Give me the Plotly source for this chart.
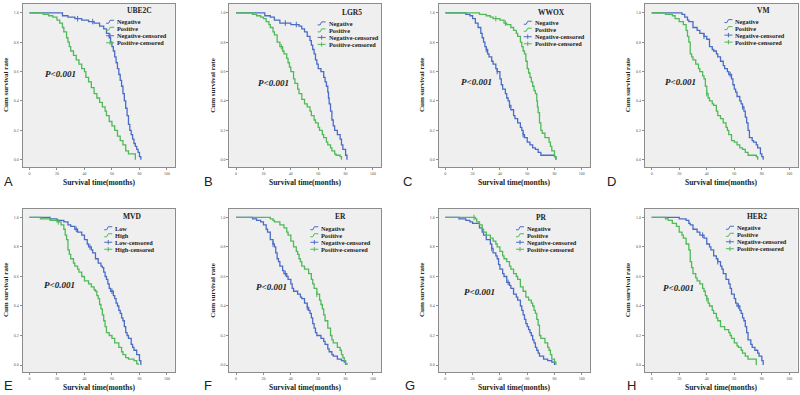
import plotly.graph_objects as go

# ---------------- data ----------------
x_ticks = [0, 20, 40, 60, 80, 100]
y_ticks = [0.0, 0.2, 0.4, 0.6, 0.8, 1.0]
panel_titles = ["UBE2C", "LGR5", "WWOX", "VM", "MVD", "ER", "PR", "HER2"]
panel_letters = ["A", "B", "C", "D", "E", "F", "G", "H"]
std_labels = ["Negative", "Positive", "Negative-censored", "Positive-censored"]
mvd_labels = ["Low", "High", "Low-censored", "High-censored"]
p_text = "P&lt;0.001"

ube2c_neg_t = [0, 24, 28, 33, 38, 43, 47, 51, 54, 56, 58, 59, 60, 61, 62, 63, 64, 65, 66, 67, 68, 69, 70, 71, 72, 73, 74, 75, 76, 77, 78, 79, 80, 81]
ube2c_neg_s = [1, .98, .97, .96, .95, .94, .93, .91, .89, .86, .83, .8, .77, .74, .7, .66, .62, .58, .54, .5, .45, .4, .35, .3, .24, .2, .17, .14, .11, .09, .07, .05, .02, 0]
ube2c_pos_t = [0, 10, 14, 17, 20, 22, 24, 25, 27, 28, 29, 30, 32, 34, 36, 38, 40, 41, 43, 45, 47, 49, 51, 53, 55, 56, 58, 60, 62, 64, 66, 68, 70, 72, 77]
ube2c_pos_s = [1, .99, .98, .97, .95, .93, .9, .87, .83, .8, .77, .74, .71, .68, .65, .62, .6, .56, .53, .49, .45, .42, .39, .36, .33, .3, .26, .23, .2, .16, .13, .1, .06, .04, 0]

lgr5_neg_t = [0, 21, 25, 28, 32, 40, 46, 48, 50, 52, 54, 55, 56, 57, 58, 59, 60, 62, 64, 65, 66, 67, 67.5, 68, 69, 70, 71, 72, 74, 76, 77, 78, 80, 81]
lgr5_neg_s = [1, .98, .97, .95, .93, .92, .91, .89, .87, .84, .81, .78, .75, .72, .68, .65, .62, .6, .56, .53, .5, .46, .42, .38, .33, .27, .23, .2, .17, .14, .1, .07, .03, 0]
lgr5_pos_t = [0, 12, 15, 18, 20, 22, 24, 25, 27, 28, 30, 32, 34, 35, 37, 38, 39, 40, 42, 43, 45, 46, 48, 50, 52, 54, 55, 57, 58, 60, 61, 63, 64, 66, 67, 69, 70, 72, 73, 76, 77]
lgr5_pos_s = [1, .99, .98, .97, .96, .94, .92, .9, .87, .85, .8, .77, .74, .72, .69, .66, .63, .6, .55, .52, .48, .45, .41, .38, .36, .33, .3, .27, .25, .22, .2, .17, .15, .12, .1, .08, .06, .04, .03, .02, 0]

wwox_neg_t = [0, 15, 18, 20, 22, 24, 26, 27, 28, 29, 30, 31, 32, 34, 35, 37, 38, 40, 41, 42, 44, 45, 46, 47, 48, 50, 51, 53, 55, 56, 57, 58, 60, 62, 64, 66, 68, 70, 80, 81]
wwox_neg_s = [1, .99, .98, .96, .93, .9, .86, .83, .8, .77, .75, .72, .7, .67, .65, .62, .6, .55, .51, .48, .45, .42, .4, .37, .34, .3, .28, .25, .22, .2, .17, .15, .12, .1, .08, .07, .05, .03, .02, 0]
wwox_pos_t = [0, 25, 30, 33, 35, 40, 43, 45, 48, 50, 52, 53, 55, 56, 57, 58, 59, 60, 61, 62, 63, 64, 65, 66, 67, 67.5, 68, 69, 70, 71, 73, 76, 77, 78, 80, 81]
wwox_pos_s = [1, .99, .98, .97, .96, .95, .93, .92, .9, .88, .86, .84, .8, .77, .74, .72, .67, .62, .59, .56, .53, .5, .47, .45, .4, .36, .32, .25, .2, .18, .15, .12, .09, .06, .02, 0]

vm_neg_t = [0, 22, 24, 26, 27, 30, 33, 35, 38, 40, 42, 44, 45, 47, 48, 50, 52, 53, 55, 56, 58, 59, 60, 61, 62, 64, 65, 66, 67, 68, 69, 70, 71, 73, 74, 76, 77, 79, 80, 81]
vm_neg_s = [1, .99, .97, .95, .94, .9, .88, .86, .84, .82, .77, .75, .74, .72, .7, .67, .64, .62, .6, .58, .55, .51, .48, .46, .43, .4, .38, .36, .33, .29, .25, .2, .15, .13, .12, .1, .08, .04, .02, 0]
vm_pos_t = [0, 10, 15, 17, 20, 23, 25, 26, 27, 28, 29, 30, 32, 34, 35, 37, 38, 39, 40, 41, 42, 44, 45, 47, 48, 50, 52, 54, 55, 56, 58, 60, 62, 64, 66, 68, 70, 76, 77]
vm_pos_s = [1, .99, .98, .96, .94, .92, .88, .84, .8, .72, .7, .68, .65, .62, .6, .57, .55, .5, .45, .42, .4, .38, .37, .33, .3, .28, .25, .22, .2, .17, .13, .12, .1, .08, .07, .05, .03, .02, 0]

mvd_low_t = [0, 15, 20, 25, 28, 30, 33, 35, 38, 40, 42, 43, 45, 46, 48, 50, 52, 53, 54, 55, 56, 57, 58, 59, 61, 62, 63, 64, 65, 66, 67, 68, 69, 70, 71, 72, 74, 75, 76, 78, 80, 81]
mvd_low_s = [1, .99, .98, .97, .95, .94, .92, .9, .88, .85, .82, .8, .78, .76, .72, .69, .67, .66, .63, .6, .58, .55, .52, .5, .47, .45, .42, .4, .37, .35, .32, .3, .26, .22, .2, .18, .14, .12, .1, .07, .03, 0]
mvd_high_t = [0, 8, 15, 20, 23, 25, 26, 27, 28, 29, 30, 32, 33, 35, 36, 38, 40, 43, 45, 47, 48, 49, 50, 51, 52, 53, 54, 55, 56, 58, 60, 62, 65, 67, 68, 70, 72, 76, 78, 79]
mvd_high_s = [1, .99, .98, .97, .95, .92, .88, .85, .78, .75, .72, .69, .67, .65, .63, .6, .57, .55, .53, .51, .5, .47, .45, .41, .38, .34, .3, .26, .22, .2, .18, .15, .12, .09, .07, .05, .04, .03, .01, 0]

er_neg_t = [0, 12, 15, 18, 20, 22, 23, 25, 27, 28, 29, 30, 31, 32, 34, 35, 37, 38, 40, 41, 42, 45, 47, 48, 50, 52, 53, 54, 55, 56, 57, 58, 59, 62, 64, 65, 67, 68, 70, 71, 74, 77, 79, 80]
er_neg_s = [1, .99, .98, .97, .95, .92, .9, .85, .82, .8, .76, .72, .7, .67, .64, .62, .6, .58, .55, .52, .5, .48, .46, .45, .42, .39, .37, .35, .32, .28, .25, .22, .2, .18, .16, .14, .11, .09, .07, .06, .04, .03, .02, 0]
er_pos_t = [0, 25, 27, 28, 32, 35, 37, 38, 40, 42, 44, 45, 46, 47, 48, 50, 53, 55, 56, 57, 59, 61, 62, 63, 64, 65, 67, 69, 70, 71, 74, 76, 77, 78, 79, 80, 81]
er_pos_s = [1, .99, .98, .97, .95, .93, .9, .88, .84, .8, .77, .75, .72, .7, .67, .65, .62, .58, .55, .52, .48, .44, .41, .38, .34, .3, .25, .2, .17, .15, .12, .1, .07, .05, .03, .01, 0]

pr_neg_t = [0, 10, 15, 18, 20, 25, 27, 28, 30, 33, 34, 35, 37, 38, 39, 40, 42, 43, 45, 47, 48, 50, 52, 53, 55, 56, 57, 58, 59, 60, 61, 62, 63, 64, 65, 66, 67, 68, 69, 72, 75, 78, 80]
pr_neg_s = [1, .99, .98, .97, .96, .93, .9, .88, .85, .82, .79, .76, .74, .72, .68, .65, .62, .6, .56, .54, .52, .48, .46, .44, .4, .37, .34, .31, .28, .26, .24, .22, .2, .17, .15, .12, .1, .08, .06, .04, .03, .02, 0]
pr_pos_t = [0, 22, 23, 25, 27, 28, 30, 33, 35, 37, 38, 40, 42, 43, 45, 47, 48, 50, 52, 53, 55, 57, 59, 61, 63, 64, 65, 66, 67, 68, 69, 70, 73, 75, 76, 77, 78, 80, 81]
pr_pos_s = [1, .99, .97, .95, .92, .9, .88, .86, .84, .82, .8, .77, .74, .72, .7, .67, .65, .62, .6, .58, .53, .5, .46, .44, .42, .4, .37, .35, .31, .27, .2, .18, .15, .12, .1, .07, .04, .02, 0]

her2_neg_t = [0, 20, 25, 27, 28, 30, 33, 35, 38, 40, 42, 43, 45, 47, 48, 50, 51, 52, 54, 56, 57, 58, 60, 61, 62, 64, 65, 66, 67, 68, 69, 70, 72, 73, 75, 77, 78, 80, 81]
her2_neg_s = [1, .99, .98, .96, .95, .92, .9, .88, .86, .82, .8, .78, .74, .72, .7, .67, .65, .62, .58, .55, .52, .48, .45, .42, .4, .37, .35, .32, .3, .26, .22, .17, .14, .12, .1, .08, .06, .03, 0]
her2_pos_t = [0, 10, 12, 15, 18, 20, 22, 23, 25, 27, 28, 29, 30, 32, 33, 35, 37, 38, 39, 40, 41, 42, 44, 45, 47, 48, 50, 53, 56, 57, 58, 60, 62, 63, 65, 66, 68, 70, 76]
her2_pos_s = [1, .99, .98, .96, .94, .9, .88, .86, .82, .78, .7, .66, .62, .59, .57, .55, .52, .5, .47, .45, .42, .4, .37, .35, .32, .3, .26, .24, .22, .2, .18, .15, .13, .12, .1, .08, .06, .04, 0]

# censored observation times
ube2c_neg_c = [35, 46]
ube2c_pos_c = []
lgr5_neg_c = [36, 44]
lgr5_pos_c = [33]
wwox_neg_c = [30, 38, 47, 57]
wwox_pos_c = [37, 44]
vm_neg_c = [38, 57, 66]
vm_pos_c = [40]
mvd_low_c = [34, 44, 60]
mvd_high_c = [21]
er_neg_c = [27, 36, 52]
er_pos_c = [59]
pr_neg_c = [34, 46]
pr_pos_c = [21]
her2_neg_c = [37, 48, 63]
her2_pos_c = [40]

series = [
    (ube2c_neg_t, ube2c_neg_s, ube2c_pos_t, ube2c_pos_s, ube2c_neg_c, ube2c_pos_c),
    (lgr5_neg_t, lgr5_neg_s, lgr5_pos_t, lgr5_pos_s, lgr5_neg_c, lgr5_pos_c),
    (wwox_neg_t, wwox_neg_s, wwox_pos_t, wwox_pos_s, wwox_neg_c, wwox_pos_c),
    (vm_neg_t, vm_neg_s, vm_pos_t, vm_pos_s, vm_neg_c, vm_pos_c),
    (mvd_low_t, mvd_low_s, mvd_high_t, mvd_high_s, mvd_low_c, mvd_high_c),
    (er_neg_t, er_neg_s, er_pos_t, er_pos_s, er_neg_c, er_pos_c),
    (pr_neg_t, pr_neg_s, pr_pos_t, pr_pos_s, pr_neg_c, pr_pos_c),
    (her2_neg_t, her2_neg_s, her2_pos_t, her2_pos_s, her2_neg_c, her2_pos_c),
]
labels = [std_labels, std_labels, std_labels, std_labels, mvd_labels, std_labels, std_labels, std_labels]

# ---------------- layout / style ----------------
W, H = 800, 395
BLUE = "#4a6cc6"
GREEN = "#4fba57"
SERIF = "Liberation Serif"
col_px = [(22.6, 175.2), (229.2, 381.2), (438.5, 590.0), (644.8, 797.6)]
row_px = [(4.0, 167.0), (208.6, 372.4)]
# annotation/legend placement per panel (fractions of plot box)
p_pos = [(22.5, 0.584), (27, 0.52), (22.8, 0.53), (20.6, 0.53), (22, 0.54), (26, 0.53), (24.8, 0.495), (19.3, 0.52)]
leg_title_x = [0.769, 0.805, 0.747, 0.776, 0.715, 0.729, 0.681, 0.732]
leg_title_y = [0.037, 0.053, 0.053, 0.037, 0.049, 0.049, 0.055, 0.049]
leg_text_x = [0.606, 0.641, 0.622, 0.58, 0.594, 0.593, 0.571, 0.59]
leg_row0 = [0.109, 0.119, 0.115, 0.105, 0.12, 0.12, 0.12, 0.117]
letter_px = [(8, 181), (208, 181), (407, 181), (611, 181), (8, 385), (208, 385), (410, 385), (631, 385)]


def px(x):
    return x / W


def py(y):
    return 1 - y / H


def surv_at(ts, ss, c):
    v = ss[0]
    for t, s in zip(ts, ss):
        if t <= c:
            v = s
    return v


fig = go.Figure()
annotations = []
shapes = []
layout = {}

for i in range(8):
    r, c = divmod(i, 4)
    L, R = col_px[c]
    T, B = row_px[r]
    ax = "" if i == 0 else str(i + 1)
    xa, ya = "x" + ax, "y" + ax
    nt, ns, pt, ps, nc, pc = series[i]
    fig.add_trace(go.Scatter(x=nt, y=ns, mode="lines", line=dict(color=BLUE, width=1.3, shape="hv"),
                             xaxis=xa, yaxis=ya, showlegend=False))
    fig.add_trace(go.Scatter(x=pt, y=ps, mode="lines", line=dict(color=GREEN, width=1.3, shape="hv"),
                             xaxis=xa, yaxis=ya, showlegend=False))
    for cens, ts, ss, col in ((nc, nt, ns, BLUE), (pc, pt, ps, GREEN)):
        if cens:
            fig.add_trace(go.Scatter(x=cens, y=[surv_at(ts, ss, v) for v in cens], mode="markers",
                                     marker=dict(symbol="line-ns", size=4, line=dict(color=col, width=1)),
                                     xaxis=xa, yaxis=ya, showlegend=False))
    axis_common = dict(showline=True, mirror=True, linecolor="#8c8c8c", linewidth=1,
                       ticks="outside", ticklen=2, tickcolor="#8c8c8c", tickwidth=0.8,
                       showgrid=False, zeroline=False,
                       tickfont=dict(family=SERIF, size=4, color="#555555"))
    layout["xaxis" + ax] = dict(axis_common, domain=[px(L), px(R)], range=[-5, 106],
                                tickvals=x_ticks, ticktext=[str(v) for v in x_ticks], anchor=ya)
    layout["yaxis" + ax] = dict(axis_common, domain=[py(B), py(T)], range=[-0.05, 1.06],
                                tickvals=y_ticks, ticktext=["%.1f" % v for v in y_ticks], anchor=xa)

    bw, bh = R - L, B - T
    # P value
    annotations.append(dict(x=p_pos[i][0], y=p_pos[i][1], xref=xa, yref=ya, text=p_text, showarrow=False,
                            font=dict(family=SERIF, size=9, color="#222222", weight="bold", style="italic")))
    # legend title
    annotations.append(dict(x=px(L + leg_title_x[i] * bw), y=py(T + leg_title_y[i] * bh), xref="paper", yref="paper",
                            text=panel_titles[i], showarrow=False, xanchor="center", yanchor="middle",
                            font=dict(family=SERIF, size=7.5, color="#222222", weight="bold")))
    tx = L + leg_text_x[i] * bw
    for k in range(4):
        yy = T + leg_row0[i] * bh + k * 7.0
        annotations.append(dict(x=px(tx), y=py(yy), xref="paper", yref="paper", text=labels[i][k],
                                showarrow=False, xanchor="left", yanchor="middle",
                                font=dict(family=SERIF, size=6.3, color="#222222", weight="bold")))
        col = BLUE if k % 2 == 0 else GREEN
        if k < 2:
            path = "M %f %f L %f %f L %f %f L %f %f" % (
                px(tx - 9), py(yy + 1.5), px(tx - 6.5), py(yy + 1.5),
                px(tx - 5), py(yy - 1.5), px(tx - 1), py(yy - 1.5))
            shapes.append(dict(type="path", path=path, xref="paper", yref="paper",
                               line=dict(color=col, width=1)))
        else:
            shapes.append(dict(type="line", x0=px(tx - 9), x1=px(tx - 1), y0=py(yy), y1=py(yy),
                               xref="paper", yref="paper", line=dict(color=col, width=1)))
            shapes.append(dict(type="line", x0=px(tx - 5), x1=px(tx - 5), y0=py(yy - 2.2), y1=py(yy + 2.2),
                               xref="paper", yref="paper", line=dict(color=col, width=1)))
    # axis titles
    annotations.append(dict(x=px((L + R) / 2), y=py(B + 15), xref="paper", yref="paper",
                            text="Survival time(months)", showarrow=False, xanchor="center", yanchor="middle",
                            font=dict(family=SERIF, size=7.5, color="#222222", weight="bold")))
    annotations.append(dict(x=px(L - 17), y=py((T + B) / 2), xref="paper", yref="paper",
                            text="Cum survival rate", showarrow=False, textangle=-90,
                            xanchor="center", yanchor="middle",
                            font=dict(family=SERIF, size=7, color="#222222", weight="bold")))
    # panel letter
    annotations.append(dict(x=px(letter_px[i][0]), y=py(letter_px[i][1]), xref="paper", yref="paper",
                            text=panel_letters[i], showarrow=False, xanchor="center", yanchor="middle",
                            font=dict(family="Liberation Sans", size=13, color="#222222")))

fig.update_layout(width=W, height=H, margin=dict(l=0, r=0, t=0, b=0),
                  paper_bgcolor="white", plot_bgcolor="#efefef", hovermode=False,
                  annotations=annotations, shapes=shapes, showlegend=False, **layout)

fig.write_html("out.html", config={"displayModeBar": False},
               post_script="document.body.style.margin='0';document.body.style.overflow='hidden';")
